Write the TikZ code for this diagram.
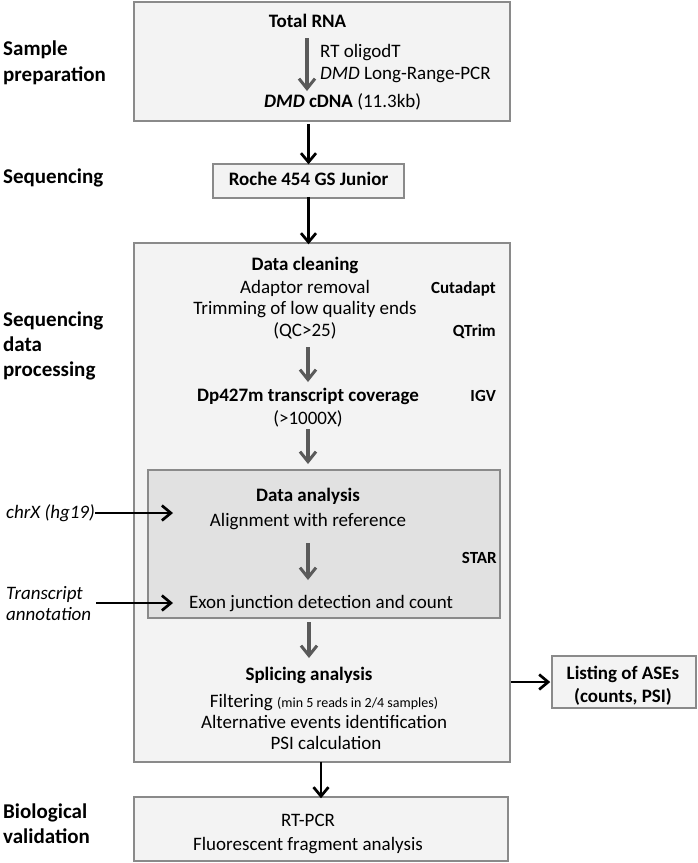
\documentclass[tikz,border=0pt]{standalone}
\usepackage{fontspec}
\setmainfont{Carlito}
\usetikzlibrary{arrows.meta}
\definecolor{boxfill}{HTML}{F3F3F3}
\definecolor{innerfill}{HTML}{E1E1E1}
\definecolor{boxline}{HTML}{8A8A8A}
\definecolor{garr}{HTML}{5A5A5A}
\begin{document}
\begin{tikzpicture}[x=1pt,y=-1pt,
  boxn/.style={draw=boxline,line width=1.5pt,fill=boxfill,inner sep=0pt,anchor=center},
  innern/.style={draw=boxline,line width=1.5pt,fill=innerfill,inner sep=0pt,anchor=center},
  txt/.style={font=\fontsize{19}{23}\selectfont,inner sep=0pt,anchor=mid},
  btxt/.style={font=\fontsize{19}{23}\selectfont\bfseries,inner sep=0pt,anchor=mid},
  tool/.style={font=\fontsize{17}{20}\selectfont\bfseries,inner sep=0pt,anchor=mid east},
  side/.style={font=\fontsize{21}{25}\selectfont\bfseries,inner sep=0pt,anchor=mid west},
  itxt/.style={font=\fontsize{19}{23}\selectfont\itshape,inner sep=0pt,anchor=mid west},
  garrow/.style={draw=garr,line width=3.2pt,-{Straight Barb[length=10pt,width=16pt,line width=3pt]}},
  barrow/.style={draw=black,line width=2.7pt,-{Straight Barb[length=9pt,width=15pt,line width=2.7pt]}}
]
\useasboundingbox (0,0) rectangle (697,863);

% boxes
\node[boxn,minimum width=376pt,minimum height=119pt] (prep) at (322,61.5) {};
\node[boxn,minimum width=191pt,minimum height=34pt] (roche) at (308.5,181) {};
\node[boxn,minimum width=376pt,minimum height=519pt] (proc) at (322,502.5) {};
\node[innern,minimum width=352pt,minimum height=148pt] (inner) at (324,544) {};
\node[boxn,minimum width=144pt,minimum height=52pt] (ases) at (624,682) {};
\node[boxn,minimum width=374pt,minimum height=64pt] (valid) at (321,829) {};

% side labels
\node[side] (s1a) at (3,53) {Sample};
\node[side] (s1b) at (3,79) {preparation};
\node[side] (s2) at (3,181) {Sequencing};
\node[side] (s3a) at (3,324) {Sequencing};
\node[side] (s3b) at (3,349) {data};
\node[side] (s3c) at (3,374) {processing};
\node[side] (s4a) at (3,816) {Biological};
\node[side] (s4b) at (3,841) {validation};

% sample preparation
\node[btxt] (total) at (307.5,25) {Total RNA};
\node[txt,anchor=mid west] (rt) at (320,55) {RT oligodT};
\node[txt,anchor=mid west] (lr) at (320,77) {\textit{DMD} Long-Range-PCR};
\node[btxt,anchor=mid west] (cdna) at (264,105) {\textit{DMD} cDNA \mdseries(11.3kb)};
\coordinate (a1s) at (307,38);
\coordinate (a1e) at (307,91);
\draw[garrow] (a1s) -- (a1e);

% sequencing
\node[btxt] (rochet) at (308.5,183) {Roche 454 GS Junior};
\draw[barrow] (roche.north |- prep.south) ++(0,2) -- ([yshift=-1pt]roche.north);
\draw[barrow] ([yshift=2pt]roche.south) -- ([yshift=-2pt]roche.north |- proc.north);

% data cleaning
\node[btxt] (clean) at (305,268) {Data cleaning};
\node[txt] (adapt) at (305,291) {Adaptor removal};
\node[tool] (cutadapt) at (496,291) {Cutadapt};
\node[txt] (trim) at (305,312) {Trimming of low quality ends};
\node[txt] (qc) at (305,334) {(QC>25)};
\node[tool] (qtrim) at (496,334) {QTrim};
\coordinate (a2s) at (308,347);
\coordinate (a2e) at (308,382);
\draw[garrow] (a2s) -- (a2e);
\node[btxt] (cov) at (308,399) {Dp427m transcript coverage};
\node[tool] (igv) at (496,399) {IGV};
\node[txt] (x1000) at (308,422) {(>1000X)};
\coordinate (a3s) at (308,429);
\coordinate (a3e) at (308,464);
\draw[garrow] (a3s) -- (a3e);

% data analysis
\node[btxt] (analysis) at (308,499) {Data analysis};
\node[txt] (align) at (308,524) {Alignment with reference};
\coordinate (a4s) at (308,543);
\coordinate (a4e) at (308,580);
\draw[garrow] (a4s) -- (a4e);
\node[tool] (star) at (497,561) {STAR};
\node[txt,anchor=mid west] (exon) at (189,606) {Exon junction detection and count};
\node[itxt] (chrx) at (6,516) {chrX (hg19)};
\node[itxt] (tr1) at (6,597) {Transcript};
\node[itxt] (tr2) at (6,618) {annotation};
\coordinate (c1s) at (95,513);
\coordinate (c1) at (173,513);
\coordinate (c2s) at (96,603);
\coordinate (c2) at (173,603);
\draw[barrow] (c1s) -- (c1);
\draw[barrow] (c2s) -- (c2);
\coordinate (a5s) at (309,622);
\coordinate (a5e) at (309,658);
\draw[garrow] (a5s) -- (a5e);

% splicing analysis
\node[btxt] (splice) at (309,678) {Splicing analysis};
\node[txt] (filt) at (324,705) {Filtering {\fontsize{14}{17}\selectfont(min 5 reads in 2/4 samples)}};
\node[txt] (alt) at (324,726) {Alternative events identification};
\node[txt] (psi) at (326,747) {PSI calculation};
\node[btxt] (ases1) at (623,677) {Listing of ASEs};
\node[btxt] (ases2) at (623,700) {(counts, PSI)};
\draw[barrow] (proc.east |- ases.west) -- ([xshift=-1pt]ases.west);
\draw[barrow] ([yshift=1pt]valid.north |- proc.south) -- ([yshift=-2pt]valid.north);

% validation
\node[txt] (rtpcr) at (308,824) {RT-PCR};
\node[txt] (frag) at (308,848) {Fluorescent fragment analysis};
\end{tikzpicture}
\end{document}
